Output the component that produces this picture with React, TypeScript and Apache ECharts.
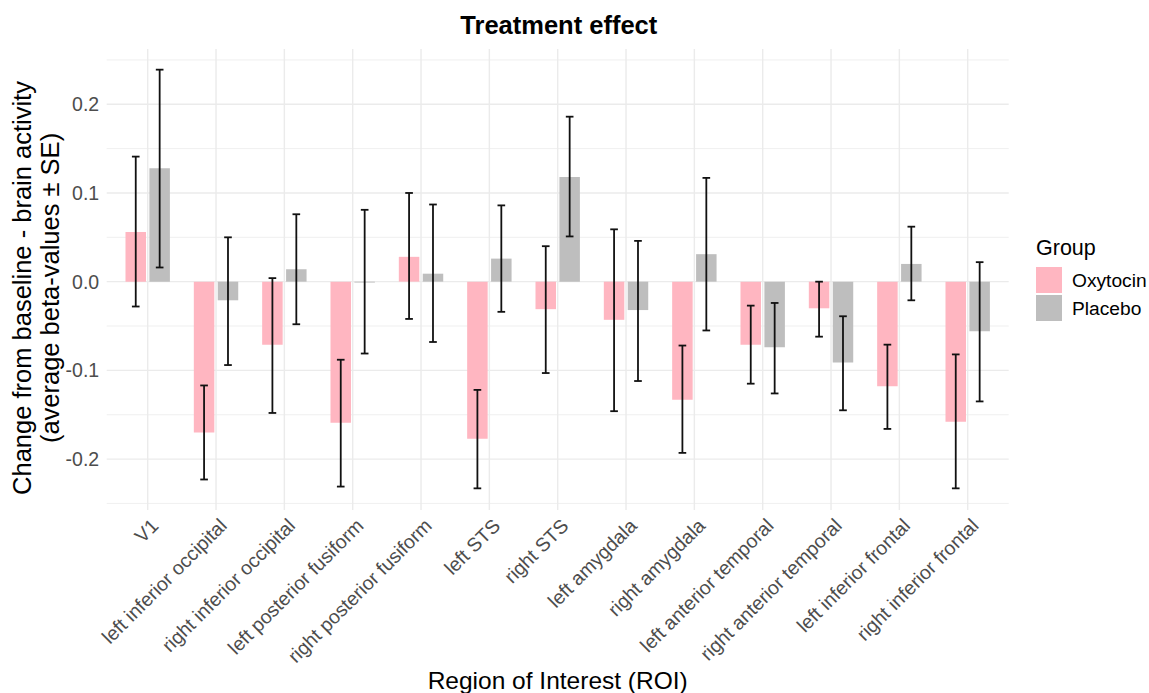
import React, { useEffect, useRef } from "react";
import * as echarts from "echarts";

const categories = [
  "V1",
  "left inferior occipital",
  "right inferior occipital",
  "left posterior fusiform",
  "right posterior fusiform",
  "left STS",
  "right STS",
  "left amygdala",
  "right amygdala",
  "left anterior temporal",
  "right anterior temporal",
  "left inferior frontal",
  "right inferior frontal",
];

const oxyMean = [0.056, -0.170, -0.071, -0.159, 0.028, -0.177, -0.031, -0.043, -0.133, -0.071, -0.030, -0.118, -0.158];
const oxyLow = [-0.028, -0.223, -0.148, -0.231, -0.042, -0.233, -0.103, -0.146, -0.193, -0.115, -0.062, -0.166, -0.233];
const oxyHigh = [0.141, -0.117, 0.004, -0.088, 0.100, -0.122, 0.040, 0.059, -0.072, -0.027, 0.000, -0.071, -0.082];

const plaMean = [0.128, -0.021, 0.014, -0.001, 0.009, 0.026, 0.118, -0.032, 0.031, -0.074, -0.091, 0.020, -0.056];
const plaLow = [0.016, -0.094, -0.048, -0.081, -0.068, -0.034, 0.051, -0.112, -0.055, -0.126, -0.145, -0.021, -0.135];
const plaHigh = [0.239, 0.050, 0.076, 0.081, 0.087, 0.086, 0.186, 0.046, 0.117, -0.024, -0.039, 0.062, 0.022];

const yTickLabels = [-0.2, -0.1, 0, 0.1, 0.2];
const yMinorGrid = [-0.25, -0.15, -0.05, 0.05, 0.15, 0.25];

const FONT = "'Liberation Sans', Arial, Helvetica, sans-serif";
const OXY_COLOR = "#FFB6C1";
const PLA_COLOR = "#BEBEBE";
const BAR_HALF = 0.15;
const DODGE = 0.175;
const CAP_HALF = 0.056;

function makeBarRender(offset: number, color: string) {
  return (params: any, api: any) => {
    const i = api.value(0);
    const m = api.value(1);
    const lo = api.value(2);
    const hi = api.value(3);
    const cx = i + offset;
    const p0 = api.coord([cx - BAR_HALF, 0]);
    const p1 = api.coord([cx + BAR_HALF, m]);
    const pl = api.coord([cx, lo]);
    const ph = api.coord([cx, hi]);
    const capL = api.coord([cx - CAP_HALF, lo])[0];
    const capR = api.coord([cx + CAP_HALF, lo])[0];
    const err = { stroke: "#111111", lineWidth: 1.8 };
    return {
      type: "group",
      children: [
        {
          type: "rect",
          shape: {
            x: p0[0],
            y: Math.min(p0[1], p1[1]),
            width: p1[0] - p0[0],
            height: Math.max(Math.abs(p1[1] - p0[1]), 0.8),
          },
          style: { fill: color },
        },
        { type: "line", shape: { x1: pl[0], y1: pl[1], x2: ph[0], y2: ph[1] }, style: err },
        { type: "line", shape: { x1: capL, y1: pl[1], x2: capR, y2: pl[1] }, style: err },
        { type: "line", shape: { x1: capL, y1: ph[1], x2: capR, y2: ph[1] }, style: err },
      ],
    };
  };
}

export default function App() {
  const ref = useRef<HTMLDivElement>(null);

  useEffect(() => {
    if (!ref.current) return;
    const chart = echarts.init(ref.current, null, { renderer: "svg" });

    const yGridData = yTickLabels
      .map((v) => [0, v, 1])
      .concat(yMinorGrid.map((v) => [0, v, 0]));
    const xGridData = categories.map((_, i) => [i, 0]);

    const option: any = {
      animation: false,
      backgroundColor: "#ffffff",
      textStyle: { fontFamily: FONT },
      grid: {
        left: 106.7,
        right: 140.3,
        top: 49,
        bottom: 183,
        outerBoundsMode: "none",
        containLabel: false,
      },
      legend: {
        orient: "vertical",
        left: 1036,
        top: 267,
        padding: 0,
        itemWidth: 26,
        itemHeight: 26,
        itemGap: 2,
        selectedMode: false,
        textStyle: { fontSize: 19.2, color: "#000000", fontFamily: FONT, padding: [0, 0, 0, 5] },
        data: [
          { name: "Oxytocin", icon: "rect", itemStyle: { color: OXY_COLOR } },
          { name: "Placebo", icon: "rect", itemStyle: { color: PLA_COLOR } },
        ],
      },
      xAxis: {
        type: "value",
        min: -0.6,
        max: 12.6,
        axisLine: { show: false },
        axisTick: { show: false },
        splitLine: { show: false },
        axisLabel: {
          customValues: categories.map((_, i) => i),
          formatter: (v: number) => categories[Math.round(v)] ?? "",
          rotate: 45,
          align: "right",
          verticalAlign: "top",
          margin: 5,
          fontSize: 19.5,
          color: "#4d4d4d",
          fontFamily: FONT,
        },
      },
      yAxis: {
        type: "value",
        min: -0.2574,
        max: 0.2623,
        axisLine: { show: false },
        axisTick: { show: false },
        splitLine: { show: false },
        axisLabel: {
          customValues: yTickLabels,
          formatter: (v: number) => v.toFixed(1),
          margin: 7.5,
          fontSize: 19.5,
          color: "#4d4d4d",
          fontFamily: FONT,
        },
      },
      graphic: [
        {
          type: "text",
          x: 558.8,
          y: 25.4,
          style: {
            text: "Treatment effect",
            fontSize: 25.5,
            fontWeight: "bold",
            fontFamily: FONT,
            fill: "#000000",
            align: "center",
            verticalAlign: "middle",
          },
        },
        {
          type: "text",
          x: 36,
          y: 288,
          rotation: Math.PI / 2,
          style: {
            text: "Change from baseline - brain activity\n(average beta-values ± SE)",
            fontSize: 25.5,
            lineHeight: 28,
            fontFamily: FONT,
            fill: "#000000",
            align: "center",
            verticalAlign: "middle",
          },
        },
        {
          type: "text",
          x: 557.7,
          y: 680,
          style: {
            text: "Region of Interest (ROI)",
            fontSize: 24.5,
            fontFamily: FONT,
            fill: "#000000",
            align: "center",
            verticalAlign: "middle",
          },
        },
        {
          type: "text",
          x: 1036,
          y: 248,
          style: {
            text: "Group",
            fontSize: 21.5,
            fontFamily: FONT,
            fill: "#000000",
            align: "left",
            verticalAlign: "middle",
          },
        },
      ],
      series: [
        {
          type: "custom",
          name: "ygrid",
          silent: true,
          z: 0,
          data: yGridData,
          encode: { x: 0, y: 1 },
          renderItem: (params: any, api: any) => {
            const y = api.coord([0, api.value(1)])[1];
            const cs = params.coordSys;
            return {
              type: "line",
              shape: { x1: cs.x, y1: y, x2: cs.x + cs.width, y2: y },
              style: { stroke: "#ebebeb", lineWidth: api.value(2) ? 1.4 : 0.8 },
            };
          },
        },
        {
          type: "custom",
          name: "xgrid",
          silent: true,
          z: 0,
          data: xGridData,
          encode: { x: 0, y: 1 },
          renderItem: (params: any, api: any) => {
            const x = api.coord([api.value(0), 0])[0];
            const cs = params.coordSys;
            return {
              type: "line",
              shape: { x1: x, y1: cs.y, x2: x, y2: cs.y + cs.height },
              style: { stroke: "#ebebeb", lineWidth: 1.4 },
            };
          },
        },
        {
          type: "custom",
          name: "Oxytocin",
          z: 2,
          itemStyle: { color: OXY_COLOR },
          data: categories.map((_, i) => [i, oxyMean[i], oxyLow[i], oxyHigh[i]]),
          encode: { x: 0, y: [1, 2, 3] },
          renderItem: makeBarRender(-DODGE, OXY_COLOR),
        },
        {
          type: "custom",
          name: "Placebo",
          z: 2,
          itemStyle: { color: PLA_COLOR },
          data: categories.map((_, i) => [i, plaMean[i], plaLow[i], plaHigh[i]]),
          encode: { x: 0, y: [1, 2, 3] },
          renderItem: makeBarRender(DODGE, PLA_COLOR),
        },
      ],
    };

    chart.setOption(option);
    return () => {
      chart.dispose();
    };
  }, []);

  return (
    <div
      ref={ref}
      style={{ position: "fixed", left: 0, top: 0, width: 1149, height: 693, background: "#fff" }}
    />
  );
}
